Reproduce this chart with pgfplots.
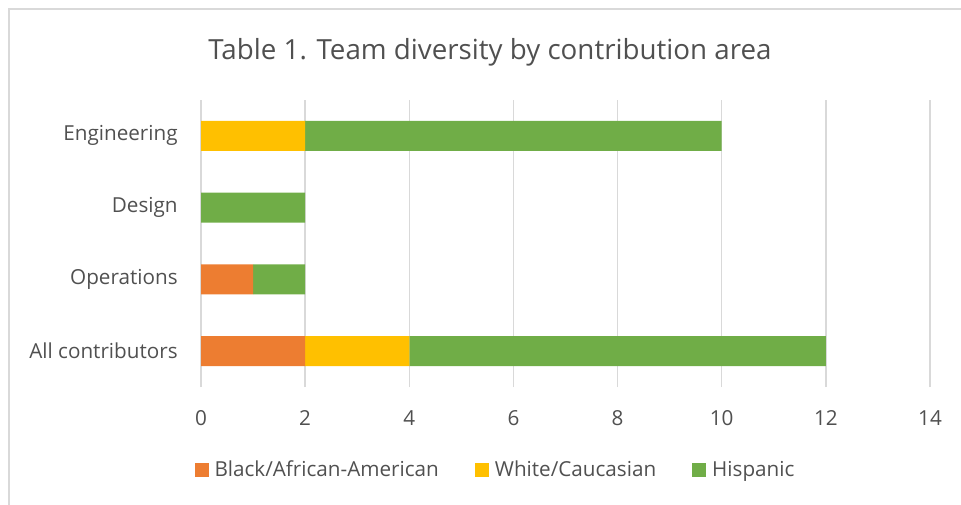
\documentclass[border=0pt]{standalone}
\usepackage{fontspec}
\setmainfont{Open Sans}
\usepackage{pgfplots}
\pgfplotsset{compat=1.18}
\definecolor{cOrange}{HTML}{ED7D31}
\definecolor{cYellow}{HTML}{FFC000}
\definecolor{cGreen}{HTML}{70AD47}
\definecolor{cGrid}{HTML}{D9D9D9}
\definecolor{cText}{HTML}{505050}
\begin{document}
\begin{tikzpicture}
\useasboundingbox (0,0) rectangle (720.75pt,378pt);
\begin{scope}
\clip (0,0) rectangle (720.75pt,378pt);
\draw[cGrid, line width=1.2pt] (6.75pt,-10pt) -- (6.75pt,371.25pt) -- (740pt,371.25pt);
\end{scope}
\node[anchor=base, text=cText, font=\fontsize{20.8}{24}\selectfont] at (367.5pt,333pt) {Table 1. Team diversity by contribution area};
\begin{axis}[
  at={(150.75pt,87.75pt)}, anchor=south west,
  scale only axis, width=546.75pt, height=215.25pt,
  xbar stacked, bar width=22.5pt,
  xmin=0, xmax=14, ymin=-0.5, ymax=3.5,
  xtick={0,2,...,14},
  ytick={0,1,2,3},
  yticklabels={All contributors, Operations, Design, Engineering},
  axis line style={draw=none},
  major tick length=0pt,
  xmajorgrids, major grid style={cGrid, line width=1pt},
  tick label style={text=cText, font=\fontsize{15.5}{18}\selectfont},
  /pgf/number format/assume math mode=true,
  xticklabel style={yshift=-14pt},
  yticklabel style={xshift=-14pt},
  legend columns=3,
  legend style={at={(0.4026,-0.289)}, anchor=center, draw=none, fill=none,
    font=\fontsize{15.5}{18}\selectfont, text=cText,
    nodes={inner xsep=0pt},
    /tikz/every odd column/.append style={column sep=4.5pt},
    /tikz/every even column/.append style={column sep=27pt}},
  legend image code/.code={\fill[#1] (0pt,-5.25pt) rectangle (10.5pt,5.25pt);},
]
\addplot[fill=cOrange, draw=none] coordinates {(2,0) (1,1) (0,2) (0,3)};
\addplot[fill=cYellow, draw=none] coordinates {(2,0) (0,1) (0,2) (2,3)};
\addplot[fill=cGreen, draw=none] coordinates {(8,0) (1,1) (2,2) (8,3)};
\legend{Black/African-American, White/Caucasian, Hispanic}
\end{axis}
\end{tikzpicture}
\end{document}
